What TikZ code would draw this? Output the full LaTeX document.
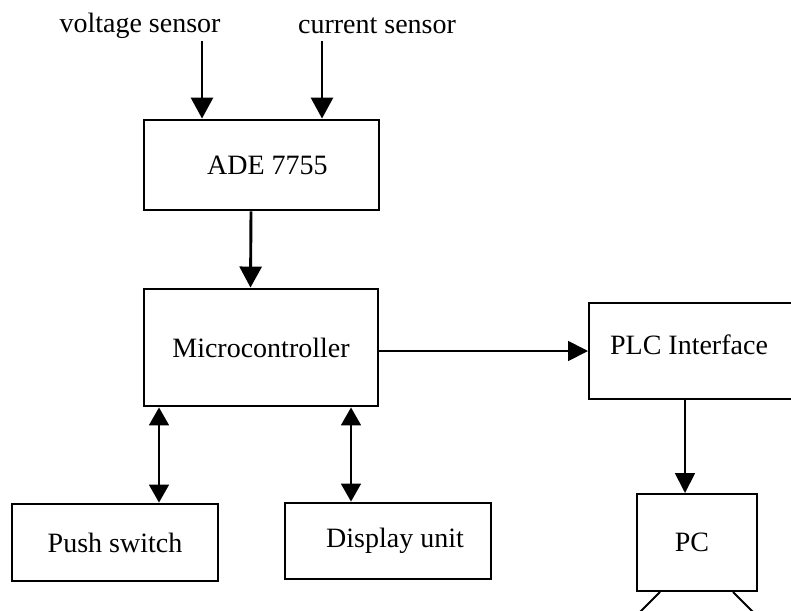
\documentclass[tikz,border=0pt]{standalone}
\usepackage{fontspec}
\setmainfont{Liberation Serif}
\usetikzlibrary{arrows.meta}
\tikzset{
	blk/.style={draw, line width=1.45pt, inner sep=0pt},
	thinblk/.style={draw, line width=1pt, inner sep=0pt},
	big/.style={-{Triangle[width=11pt,length=10.5pt]}, line width=1.45pt},
	small/.style={-{Triangle[width=10pt,length=10pt]}, line width=0.9pt},
	both/.style={{Triangle[width=10pt,length=9pt]}-{Triangle[width=10pt,length=9pt]}, line width=0.9pt}
}
\begin{document}
\begin{tikzpicture}[x=0.5pt, y=-0.5pt, font=\fontsize{14}{16.8}\selectfont]
			\useasboundingbox (0,0) rectangle (791,610);
			\clip (0,0) rectangle (791,610);
			\node (volt) at (140,26) [] {voltage sensor};
			\node (curr) at (377,26) [] {current sensor};
			\node (ade) at (261.5,165) [blk, minimum width=117.5pt, minimum height=45pt] {\hspace*{6pt}ADE 7755};
			\node (mcu) at (261,347.5) [blk, minimum width=117pt, minimum height=58.5pt] {Microcontroller};
			\node (plc) at (694.5,351) [thinblk, minimum width=105.5pt, minimum height=48pt] {};
			\node at (689,345) [] {PLC Interface};
			\node (pc) at (697,542.5) [thinblk, minimum width=60pt, minimum height=48.5pt] {\hspace*{-5pt}PC};
			\node (push) at (115,542.5) [blk, minimum width=103pt, minimum height=38.5pt] {Push switch};
			\node (disp) at (388,541) [blk, minimum width=103pt, minimum height=38pt] {\hspace*{7pt}Display unit};
			% inputs
			\coordinate (vin) at (202,41);
			\coordinate (iin) at (322,41);
			\draw[big] (vin) -- (vin |- ade.north);
			\draw[big] (iin) -- (iin |- ade.north);
			\draw[big] ([xshift=-5.25pt]ade.south) -- ([xshift=-5.25pt]mcu.north);
			\draw[small] (mcu.east |- plc.west) -- (plc.west);
			\coordinate (pcin) at ([xshift=-6pt]pc.north);
			\draw[small] (pcin |- plc.south) -- (pcin);
			% two way links
			\coordinate (sw) at ([xshift=22pt]push.north);
			\coordinate (du) at ([xshift=-18.5pt]disp.north);
			\draw[both] (sw |- mcu.south) -- (sw);
			\draw[both] (du |- mcu.south) -- (du);
			% stand of the PC
			\draw[line width=0.9pt] ([xshift=-18.5pt]pc.south) -- ++(-25,25);
			\draw[line width=0.9pt] ([xshift=18pt]pc.south) -- ++(25,25);
		\end{tikzpicture}
\end{document}
